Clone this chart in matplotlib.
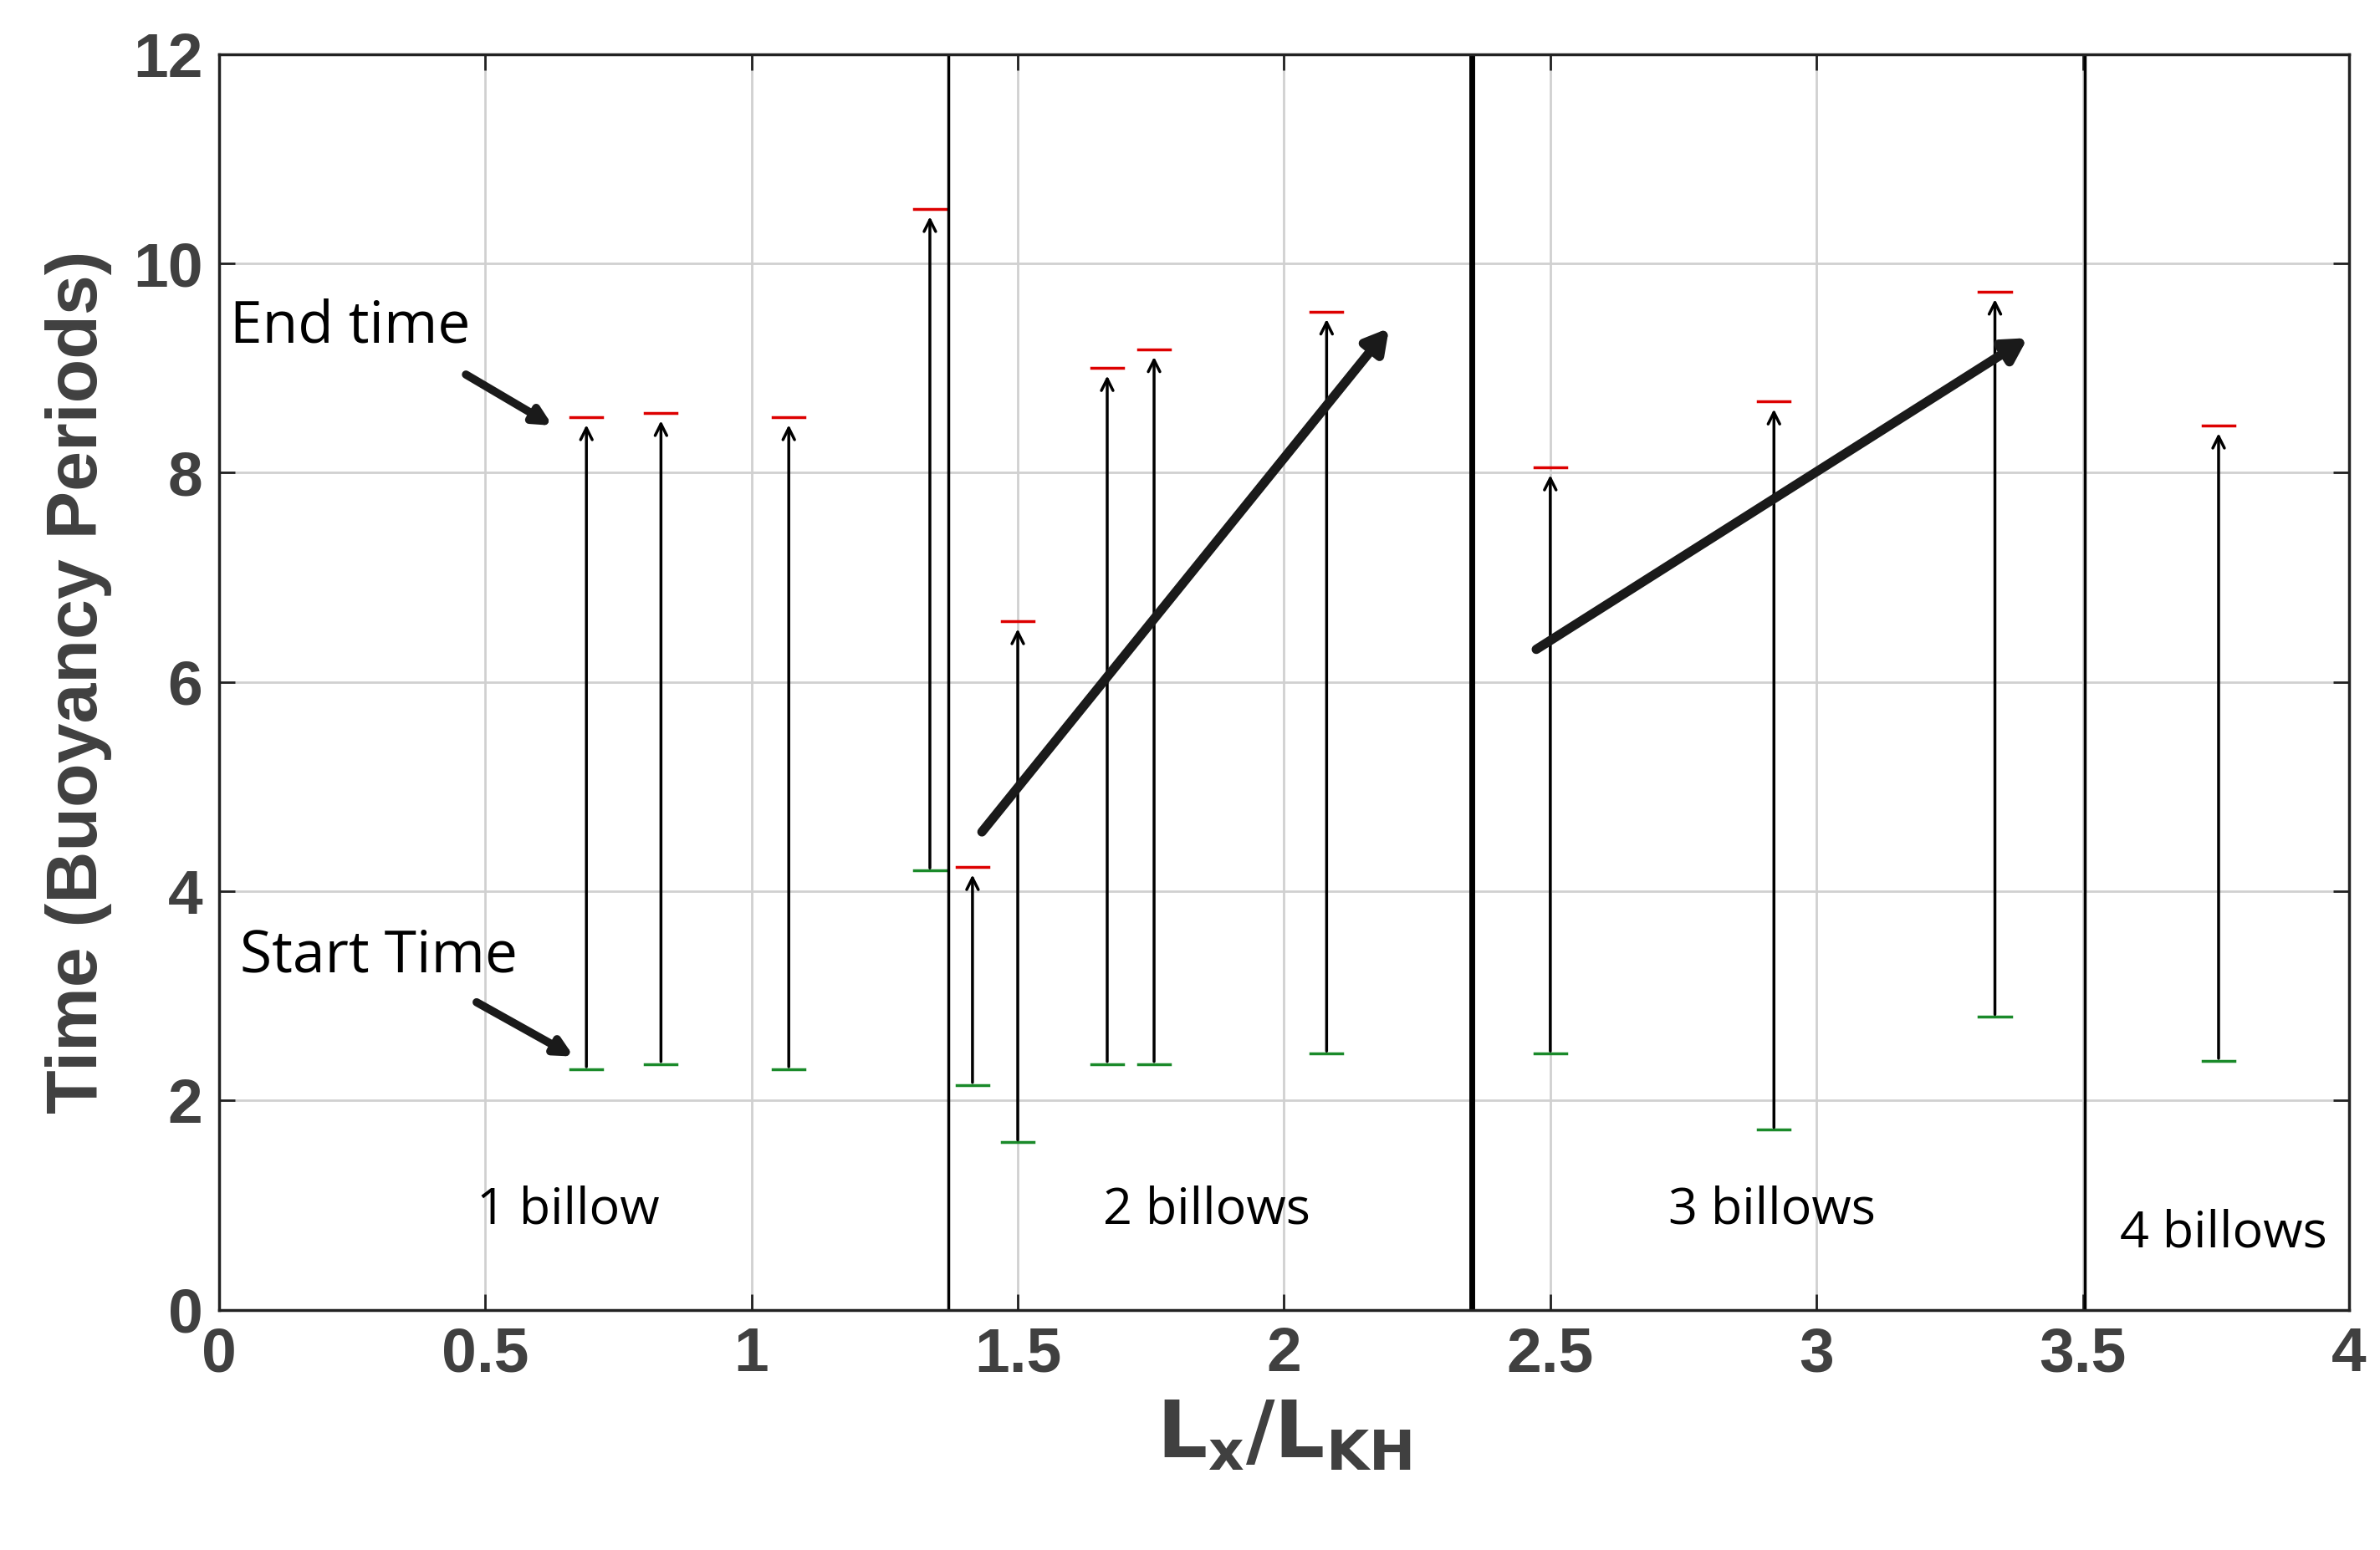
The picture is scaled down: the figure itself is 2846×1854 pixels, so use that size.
import matplotlib
matplotlib.use("Agg")
import matplotlib.pyplot as plt

x = [0.69, 0.83, 1.07, 1.335, 1.415, 1.50, 1.668, 1.756, 2.08, 2.50, 2.92, 3.335, 3.755]
start = [2.3, 2.35, 2.3, 4.2, 2.15, 1.6, 2.35, 2.35, 2.45, 2.45, 1.72, 2.8, 2.38]
end = [8.53, 8.57, 8.53, 10.52, 4.23, 6.58, 9.0, 9.18, 9.54, 8.05, 8.68, 9.73, 8.45]
regions = [1.37, 2.353, 3.504]
region_labels = ["1 billow", "2 billows", "3 billows", "4 billows"]
label_x = [0.656, 1.854, 2.917, 3.765]
label_y = [0.95, 0.95, 0.95, 0.73]

plt.rcParams['font.family'] = ['Liberation Sans', 'DejaVu Sans']
fig = plt.figure(figsize=(28.46, 18.54), dpi=100)
ax = fig.add_axes([0.092, 0.155, 0.895, 0.81])
ax.set_xlim(0, 4); ax.set_ylim(0, 12)
ax.grid(True, color='#d0d0d0', lw=2)
ax.set_axisbelow(True)
gc = '#404040'
for s in ax.spines.values():
    s.set_color('#222222'); s.set_linewidth(2.5)
ax.tick_params(direction='in', length=14, width=2, colors='#222222', labelsize=54, pad=14, top=True, right=True)
ax.set_xticks([0, 0.5, 1, 1.5, 2, 2.5, 3, 3.5, 4])
ax.set_xticklabels(['0', '0.5', '1', '1.5', '2', '2.5', '3', '3.5', '4'], fontweight='bold', color=gc)
ax.set_yticks(range(0, 13, 2))
ax.set_yticklabels([str(v) for v in range(0, 13, 2)], fontweight='bold', color=gc)
ax.set_xlabel(r'$\mathbf{L_x/L_{KH}}$', fontsize=68, color=gc, labelpad=14)
ax.set_ylabel('Time (Buoyancy Periods)', fontsize=62, fontweight='bold', color=gc, labelpad=18)

for xi, s, e in zip(x, start, end):
    ax.annotate('', xy=(xi, e - 0.05), xytext=(xi, s),
                arrowprops=dict(arrowstyle='->,head_length=1.0,head_width=0.5', color='black', lw=2.5))
    ax.plot([xi - 0.03, xi + 0.03], [e, e], color='#dd0000', lw=2.5)
    ax.plot([xi - 0.03, xi + 0.03], [s, s], color='#1a8a2a', lw=2.5)

for i, r in enumerate(regions):
    ax.axvline(r, color='black', lw=5 if i == 1 else 2.5)
for lx, ly, t in zip(label_x, label_y, region_labels):
    ax.text(lx, ly, t, fontsize=44, ha='center', va='center', family=['Open Sans', 'DejaVu Sans'])

big = dict(arrowstyle='-|>,head_length=1.6,head_width=0.9', color='#1a1a1a', lw=8)
ax.annotate('', xy=(2.2, 9.4), xytext=(1.43, 4.55), arrowprops=big)
ax.annotate('', xy=(3.4, 9.3), xytext=(2.47, 6.3), arrowprops=big)
sm = dict(arrowstyle='-|>,head_length=1.2,head_width=0.6', color='#1a1a1a', lw=7)
ax.annotate('', xy=(0.63, 8.44), xytext=(0.46, 8.95), arrowprops=sm)
ax.annotate('', xy=(0.67, 2.41), xytext=(0.48, 2.95), arrowprops=sm)
ax.text(0.02, 9.39, 'End time', fontsize=50, va='center', family=['Open Sans', 'DejaVu Sans'])
ax.text(0.04, 3.37, 'Start Time', fontsize=50, va='center', family=['Open Sans', 'DejaVu Sans'])

fig.savefig('out.png', dpi=100, facecolor='white')
